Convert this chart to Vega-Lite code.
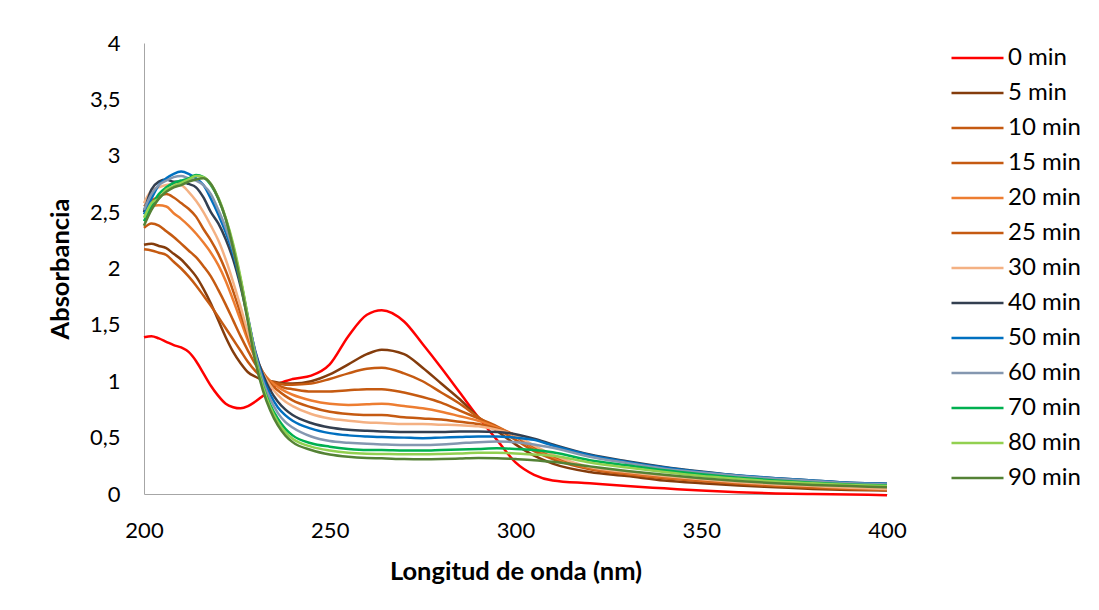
{
  "$schema": "https://vega.github.io/schema/vega-lite/v6.json",
  "autosize": {"type": "none"},
  "width": 743,
  "height": 451,
  "padding": {"left": 144, "top": 43, "right": 212, "bottom": 116},
  "background": "white",
  "data": {"values": [
    {"wl":200,"0 min":1.39,"5 min":2.21,"10 min":2.17,"15 min":2.36,"20 min":2.52,"25 min":2.55,"30 min":2.58,"40 min":2.50,"50 min":2.48,"60 min":2.52,"70 min":2.42,"80 min":2.45,"90 min":2.38},
    {"wl":202,"0 min":1.40,"5 min":2.22,"10 min":2.16,"15 min":2.40,"20 min":2.55,"25 min":2.60,"30 min":2.69,"40 min":2.70,"50 min":2.62,"60 min":2.66,"70 min":2.55,"80 min":2.58,"90 min":2.52},
    {"wl":204,"0 min":1.38,"5 min":2.20,"10 min":2.14,"15 min":2.38,"20 min":2.56,"25 min":2.64,"30 min":2.72,"40 min":2.77,"50 min":2.74,"60 min":2.74,"70 min":2.66,"80 min":2.62,"90 min":2.62},
    {"wl":206,"0 min":1.35,"5 min":2.18,"10 min":2.12,"15 min":2.33,"20 min":2.55,"25 min":2.66,"30 min":2.74,"40 min":2.79,"50 min":2.80,"60 min":2.78,"70 min":2.72,"80 min":2.70,"90 min":2.68},
    {"wl":208,"0 min":1.32,"5 min":2.13,"10 min":2.06,"15 min":2.28,"20 min":2.49,"25 min":2.63,"30 min":2.75,"40 min":2.77,"50 min":2.84,"60 min":2.81,"70 min":2.76,"80 min":2.73,"90 min":2.72},
    {"wl":210,"0 min":1.30,"5 min":2.08,"10 min":2.00,"15 min":2.22,"20 min":2.44,"25 min":2.58,"30 min":2.74,"40 min":2.77,"50 min":2.86,"60 min":2.82,"70 min":2.78,"80 min":2.76,"90 min":2.74},
    {"wl":212,"0 min":1.26,"5 min":2.01,"10 min":1.93,"15 min":2.16,"20 min":2.38,"25 min":2.53,"30 min":2.68,"40 min":2.75,"50 min":2.84,"60 min":2.80,"70 min":2.80,"80 min":2.79,"90 min":2.77},
    {"wl":214,"0 min":1.18,"5 min":1.93,"10 min":1.85,"15 min":2.10,"20 min":2.31,"25 min":2.46,"30 min":2.60,"40 min":2.72,"50 min":2.80,"60 min":2.78,"70 min":2.83,"80 min":2.82,"90 min":2.79},
    {"wl":216,"0 min":1.07,"5 min":1.82,"10 min":1.76,"15 min":2.02,"20 min":2.23,"25 min":2.35,"30 min":2.50,"40 min":2.63,"50 min":2.74,"60 min":2.74,"70 min":2.81,"80 min":2.81,"90 min":2.80},
    {"wl":218,"0 min":0.96,"5 min":1.69,"10 min":1.67,"15 min":1.93,"20 min":2.14,"25 min":2.25,"30 min":2.38,"40 min":2.50,"50 min":2.62,"60 min":2.66,"70 min":2.74,"80 min":2.75,"90 min":2.75},
    {"wl":220,"0 min":0.87,"5 min":1.54,"10 min":1.57,"15 min":1.81,"20 min":2.03,"25 min":2.13,"30 min":2.25,"40 min":2.40,"50 min":2.48,"60 min":2.52,"70 min":2.62,"80 min":2.63,"90 min":2.62},
    {"wl":222,"0 min":0.80,"5 min":1.39,"10 min":1.47,"15 min":1.68,"20 min":1.89,"25 min":1.98,"30 min":2.08,"40 min":2.26,"50 min":2.32,"60 min":2.36,"70 min":2.44,"80 min":2.45,"90 min":2.44},
    {"wl":224,"0 min":0.77,"5 min":1.26,"10 min":1.37,"15 min":1.54,"20 min":1.72,"25 min":1.80,"30 min":1.88,"40 min":2.08,"50 min":2.13,"60 min":2.16,"70 min":2.20,"80 min":2.22,"90 min":2.18},
    {"wl":226,"0 min":0.76,"5 min":1.16,"10 min":1.27,"15 min":1.40,"20 min":1.54,"25 min":1.60,"30 min":1.66,"40 min":1.84,"50 min":1.87,"60 min":1.90,"70 min":1.90,"80 min":1.92,"90 min":1.87},
    {"wl":228,"0 min":0.78,"5 min":1.08,"10 min":1.17,"15 min":1.27,"20 min":1.36,"25 min":1.40,"30 min":1.43,"40 min":1.55,"50 min":1.56,"60 min":1.57,"70 min":1.55,"80 min":1.56,"90 min":1.52},
    {"wl":230,"0 min":0.82,"5 min":1.04,"10 min":1.09,"15 min":1.15,"20 min":1.20,"25 min":1.22,"30 min":1.23,"40 min":1.26,"50 min":1.25,"60 min":1.24,"70 min":1.20,"80 min":1.20,"90 min":1.17},
    {"wl":232,"0 min":0.87,"5 min":1.01,"10 min":1.03,"15 min":1.06,"20 min":1.08,"25 min":1.08,"30 min":1.07,"40 min":1.06,"50 min":1.03,"60 min":1.00,"70 min":0.96,"80 min":0.95,"90 min":0.92},
    {"wl":234,"0 min":0.92,"5 min":1.00,"10 min":1.00,"15 min":1.00,"20 min":1.00,"25 min":0.98,"30 min":0.96,"40 min":0.92,"50 min":0.88,"60 min":0.84,"70 min":0.79,"80 min":0.77,"90 min":0.74},
    {"wl":236,"0 min":0.97,"5 min":0.99,"10 min":0.98,"15 min":0.965,"20 min":0.95,"25 min":0.92,"30 min":0.88,"40 min":0.82,"50 min":0.77,"60 min":0.72,"70 min":0.67,"80 min":0.64,"90 min":0.61},
    {"wl":238,"0 min":1.00,"5 min":0.98,"10 min":0.97,"15 min":0.94,"20 min":0.91,"25 min":0.87,"30 min":0.82,"40 min":0.75,"50 min":0.70,"60 min":0.64,"70 min":0.58,"80 min":0.55,"90 min":0.52},
    {"wl":240,"0 min":1.02,"5 min":0.98,"10 min":0.97,"15 min":0.93,"20 min":0.88,"25 min":0.83,"30 min":0.78,"40 min":0.70,"50 min":0.65,"60 min":0.59,"70 min":0.52,"80 min":0.49,"90 min":0.46},
    {"wl":245,"0 min":1.05,"5 min":1.00,"10 min":0.98,"15 min":0.91,"20 min":0.83,"25 min":0.77,"30 min":0.71,"40 min":0.63,"50 min":0.58,"60 min":0.51,"70 min":0.45,"80 min":0.42,"90 min":0.39},
    {"wl":250,"0 min":1.15,"5 min":1.06,"10 min":1.02,"15 min":0.91,"20 min":0.80,"25 min":0.73,"30 min":0.67,"40 min":0.59,"50 min":0.54,"60 min":0.47,"70 min":0.42,"80 min":0.385,"90 min":0.35},
    {"wl":255,"0 min":1.40,"5 min":1.15,"10 min":1.07,"15 min":0.92,"20 min":0.79,"25 min":0.71,"30 min":0.65,"40 min":0.57,"50 min":0.52,"60 min":0.455,"70 min":0.40,"80 min":0.365,"90 min":0.33},
    {"wl":260,"0 min":1.59,"5 min":1.24,"10 min":1.11,"15 min":0.93,"20 min":0.795,"25 min":0.70,"30 min":0.635,"40 min":0.56,"50 min":0.51,"60 min":0.445,"70 min":0.39,"80 min":0.357,"90 min":0.32},
    {"wl":264,"0 min":1.63,"5 min":1.28,"10 min":1.12,"15 min":0.93,"20 min":0.80,"25 min":0.70,"30 min":0.63,"40 min":0.555,"50 min":0.505,"60 min":0.44,"70 min":0.39,"80 min":0.355,"90 min":0.317},
    {"wl":270,"0 min":1.53,"5 min":1.24,"10 min":1.07,"15 min":0.90,"20 min":0.78,"25 min":0.68,"30 min":0.62,"40 min":0.55,"50 min":0.50,"60 min":0.435,"70 min":0.385,"80 min":0.352,"90 min":0.31},
    {"wl":275,"0 min":1.33,"5 min":1.12,"10 min":1.00,"15 min":0.86,"20 min":0.76,"25 min":0.67,"30 min":0.62,"40 min":0.55,"50 min":0.495,"60 min":0.435,"70 min":0.385,"80 min":0.352,"90 min":0.308},
    {"wl":280,"0 min":1.12,"5 min":0.98,"10 min":0.90,"15 min":0.81,"20 min":0.73,"25 min":0.66,"30 min":0.615,"40 min":0.55,"50 min":0.50,"60 min":0.44,"70 min":0.39,"80 min":0.355,"90 min":0.31},
    {"wl":285,"0 min":0.90,"5 min":0.84,"10 min":0.80,"15 min":0.74,"20 min":0.69,"25 min":0.64,"30 min":0.61,"40 min":0.555,"50 min":0.505,"60 min":0.45,"70 min":0.395,"80 min":0.36,"90 min":0.315},
    {"wl":290,"0 min":0.68,"5 min":0.68,"10 min":0.68,"15 min":0.67,"20 min":0.65,"25 min":0.62,"30 min":0.60,"40 min":0.555,"50 min":0.51,"60 min":0.46,"70 min":0.40,"80 min":0.365,"90 min":0.32},
    {"wl":295,"0 min":0.48,"5 min":0.56,"10 min":0.58,"15 min":0.60,"20 min":0.59,"25 min":0.58,"30 min":0.57,"40 min":0.55,"50 min":0.51,"60 min":0.465,"70 min":0.405,"80 min":0.365,"90 min":0.318},
    {"wl":300,"0 min":0.28,"5 min":0.44,"10 min":0.48,"15 min":0.51,"20 min":0.52,"25 min":0.52,"30 min":0.52,"40 min":0.53,"50 min":0.50,"60 min":0.46,"70 min":0.40,"80 min":0.36,"90 min":0.31},
    {"wl":305,"0 min":0.17,"5 min":0.34,"10 min":0.38,"15 min":0.40,"20 min":0.41,"25 min":0.42,"30 min":0.43,"40 min":0.49,"50 min":0.48,"60 min":0.44,"70 min":0.39,"80 min":0.35,"90 min":0.30},
    {"wl":310,"0 min":0.12,"5 min":0.27,"10 min":0.31,"15 min":0.32,"20 min":0.33,"25 min":0.34,"30 min":0.35,"40 min":0.44,"50 min":0.43,"60 min":0.41,"70 min":0.37,"80 min":0.34,"90 min":0.285},
    {"wl":320,"0 min":0.095,"5 min":0.195,"10 min":0.22,"15 min":0.225,"20 min":0.23,"25 min":0.235,"30 min":0.24,"40 min":0.35,"50 min":0.345,"60 min":0.33,"70 min":0.30,"80 min":0.28,"90 min":0.245},
    {"wl":330,"0 min":0.07,"5 min":0.16,"10 min":0.175,"15 min":0.18,"20 min":0.185,"25 min":0.19,"30 min":0.195,"40 min":0.29,"50 min":0.285,"60 min":0.275,"70 min":0.255,"80 min":0.235,"90 min":0.205},
    {"wl":340,"0 min":0.05,"5 min":0.12,"10 min":0.14,"15 min":0.145,"20 min":0.15,"25 min":0.155,"30 min":0.16,"40 min":0.24,"50 min":0.235,"60 min":0.225,"70 min":0.21,"80 min":0.195,"90 min":0.17},
    {"wl":350,"0 min":0.03,"5 min":0.095,"10 min":0.115,"15 min":0.12,"20 min":0.12,"25 min":0.125,"30 min":0.13,"40 min":0.20,"50 min":0.195,"60 min":0.19,"70 min":0.175,"80 min":0.16,"90 min":0.14},
    {"wl":360,"0 min":0.015,"5 min":0.075,"10 min":0.09,"15 min":0.095,"20 min":0.10,"25 min":0.10,"30 min":0.105,"40 min":0.165,"50 min":0.165,"60 min":0.16,"70 min":0.145,"80 min":0.135,"90 min":0.115},
    {"wl":370,"0 min":0.005,"5 min":0.06,"10 min":0.07,"15 min":0.075,"20 min":0.08,"25 min":0.08,"30 min":0.085,"40 min":0.14,"50 min":0.14,"60 min":0.135,"70 min":0.12,"80 min":0.11,"90 min":0.095},
    {"wl":380,"0 min":0.0,"5 min":0.045,"10 min":0.055,"15 min":0.06,"20 min":0.065,"25 min":0.065,"30 min":0.07,"40 min":0.12,"50 min":0.12,"60 min":0.115,"70 min":0.10,"80 min":0.095,"90 min":0.08},
    {"wl":390,"0 min":-0.005,"5 min":0.035,"10 min":0.045,"15 min":0.045,"20 min":0.05,"25 min":0.05,"30 min":0.055,"40 min":0.10,"50 min":0.10,"60 min":0.095,"70 min":0.085,"80 min":0.08,"90 min":0.07},
    {"wl":400,"0 min":-0.01,"5 min":0.03,"10 min":0.035,"15 min":0.035,"20 min":0.04,"25 min":0.04,"30 min":0.045,"40 min":0.09,"50 min":0.09,"60 min":0.085,"70 min":0.075,"80 min":0.07,"90 min":0.06}
  ]},
  "transform": [
    {"fold": ["0 min","5 min","10 min","15 min","20 min","25 min","30 min","40 min","50 min","60 min","70 min","80 min","90 min"], "as": ["serie","abs"]}
  ],
  "mark": {"type": "line", "interpolate": "monotone", "strokeWidth": 2.5, "clip": false},
  "encoding": {
    "x": {"field": "wl", "type": "quantitative",
      "scale": {"domain": [200, 400], "nice": false, "zero": false},
      "axis": {"title": "Longitud de onda (nm)", "values": [200,250,300,350,400], "ticks": false, "grid": false, "labelFlush": false,
        "domainColor": "#A6A6A6", "domainWidth": 1, "labelPadding": 26, "labelFontSize": 22, "labelFont": "Lato", "labelColor": "#000000",
        "titleFont": "Lato", "titleFontSize": 25.5, "titleFontWeight": "bold", "titleColor": "#000000", "titlePadding": 18}},
    "y": {"field": "abs", "type": "quantitative",
      "scale": {"domain": [0, 4], "nice": false},
      "axis": {"title": "Absorbancia", "values": [0,0.5,1,1.5,2,2.5,3,3.5,4], "ticks": false, "grid": false,
        "labelExpr": "replace(format(datum.value, '~g'), '.', ',')",
        "domainColor": "#A6A6A6", "domainWidth": 1, "labelPadding": 24, "labelFontSize": 22, "labelFont": "Lato", "labelColor": "#000000",
        "titleFont": "Lato", "titleFontSize": 25.5, "titleFontWeight": "bold", "titleColor": "#000000", "titlePadding": 16}},
    "color": {"field": "serie", "type": "nominal", "sort": null,
      "scale": {"domain": ["0 min","5 min","10 min","15 min","20 min","25 min","30 min","40 min","50 min","60 min","70 min","80 min","90 min"],
        "range": ["#FF0000","#843C0C","#C55A11","#C55A11","#ED7D31","#C55A11","#F4B183","#333F50","#0070C0","#8497B0","#00B050","#92D050","#548235"]},
      "legend": {"title": null, "orient": "none", "legendX": 806, "legendY": -2.4, "symbolType": "stroke", "symbolSize": 2704, "symbolStrokeWidth": 2.5,
        "clipHeight": 34.75,
        "labelFont": "Lato", "labelFontSize": 24, "labelColor": "#000000", "labelOffset": 3, "rowPadding": 0, "symbolOpacity": 1}}
  },
  "config": {"view": {"stroke": null}}
}
